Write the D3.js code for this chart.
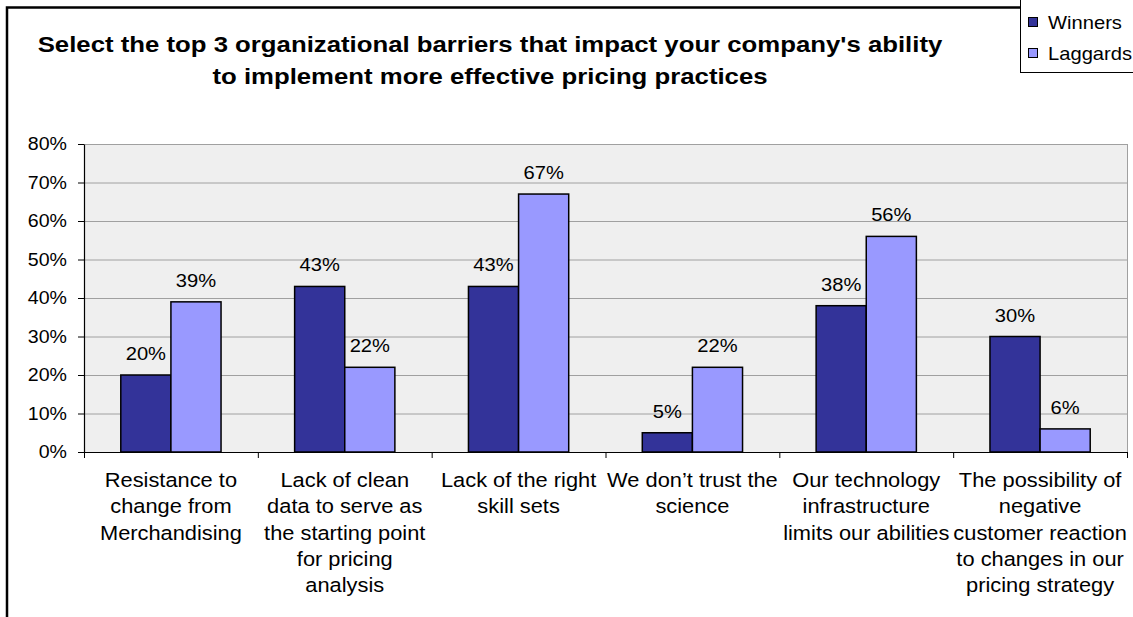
<!DOCTYPE html>
<html>
<head>
<meta charset="utf-8">
<script src="https://cdn.jsdelivr.net/npm/d3@7"></script>
<style>
  html, body { margin: 0; padding: 0; background: #fff; }
  svg { display: block; }
</style>
</head>
<body>
<svg id="chart" width="1133" height="617"></svg>
<script>
// ---- data ----
const categoryLabels = [
  ["Resistance to", "change from", "Merchandising"],
  ["Lack of clean", "data to serve as", "the starting point", "for pricing", "analysis"],
  ["Lack of the right", "skill sets"],
  ["We don\u2019t trust the", "science"],
  ["Our technology", "infrastructure", "limits our abilities"],
  ["The possibility of", "negative", "customer reaction", "to changes in our", "pricing strategy"]
];
const seriesNames = ["Winners", "Laggards"];
const winners = [20, 43, 43, 5, 38, 30];
const laggards = [39, 22, 67, 22, 56, 6];
const yTicks = [0, 10, 20, 30, 40, 50, 60, 70, 80];
const titleLines = [
  "Select the top 3 organizational barriers that impact your company's ability",
  "to implement more effective pricing practices"
];

// ---- layout & style ----
const FONT = "'Liberation Sans', Arial, Helvetica, sans-serif";
const SX = 1.12;                 // horizontal widening of the lettering
const colors = { Winners: "#333399", Laggards: "#9999FF" };
const plot = { left: 84, right: 1127, top: 144, bottom: 452 };

const svg = d3.select("#chart");

// chart frame
svg.append("rect")
  .attr("x", 7).attr("y", 7.5).attr("width", 1200).attr("height", 700)
  .attr("fill", "#fff").attr("stroke", "#000").attr("stroke-width", 2.5);

// text helper: draws a string widened by SX around its anchor point
function wideText(parent, x, y, str, size, anchor, weight) {
  return parent.append("text")
    .attr("transform", `translate(${x},${y}) scale(${SX},1)`)
    .attr("text-anchor", anchor || "middle")
    .attr("font-family", FONT)
    .attr("font-size", size)
    .attr("font-weight", weight || "normal")
    .attr("fill", "#000")
    .text(str);
}

// title
titleLines.forEach((t, i) => wideText(svg, 490, 52 + i * 32, t, 23, "middle", "bold"));

// scales
const idx = d3.range(categoryLabels.length);
const x0 = d3.scaleBand().domain(idx).range([plot.left, plot.right]).padding(0);
const x1 = d3.scaleBand().domain(seriesNames).range([0, x0.bandwidth()])
  .paddingInner(0).paddingOuter(0.734);
const y = d3.scaleLinear().domain([0, 80]).range([plot.bottom, plot.top]);
const xEdges = d3.scaleLinear().domain([0, categoryLabels.length]).range([plot.left, plot.right]);

// plot background
svg.append("rect")
  .attr("x", plot.left).attr("y", plot.top)
  .attr("width", plot.right - plot.left).attr("height", plot.bottom - plot.top)
  .attr("fill", "#efefef");

// gridlines
svg.append("g")
  .selectAll("line")
  .data(yTicks.filter(d => d > 0))
  .join("line")
  .attr("x1", plot.left).attr("x2", plot.right)
  .attr("y1", d => y(d) + 0.5).attr("y2", d => y(d) + 0.5)
  .attr("stroke", "#a0a0a0").attr("stroke-width", 1);

// right edge of plot area
svg.append("line")
  .attr("x1", plot.right + 0.5).attr("x2", plot.right + 0.5)
  .attr("y1", plot.top).attr("y2", plot.bottom)
  .attr("stroke", "#a0a0a0").attr("stroke-width", 1);

// bars
const rows = idx.map(i => ({ i, values: [
  { key: "Winners", v: winners[i] },
  { key: "Laggards", v: laggards[i] }
]}));

const groups = svg.append("g").selectAll("g")
  .data(rows)
  .join("g")
  .attr("transform", d => `translate(${x0(d.i)},0)`);

groups.selectAll("rect")
  .data(d => d.values)
  .join("rect")
  .attr("x", d => x1(d.key))
  .attr("y", d => y(d.v))
  .attr("width", x1.bandwidth())
  .attr("height", d => y(0) - y(d.v))
  .attr("fill", d => colors[d.key])
  .attr("stroke", "#000").attr("stroke-width", 1.5);

// value labels
groups.each(function(d) {
  const g = d3.select(this);
  d.values.forEach(s => {
    wideText(g, x1(s.key) + x1.bandwidth() / 2, y(s.v) - 15, s.v + "%", 18, "middle");
  });
});

// y axis
const yAxis = svg.append("g")
  .attr("transform", `translate(${plot.left},0)`)
  .call(d3.axisLeft(y).tickValues(yTicks).tickSize(6).tickSizeOuter(0).tickFormat(d => d + "%"));
yAxis.select(".domain").attr("stroke", "#000").attr("stroke-width", 1.2);
yAxis.selectAll(".tick line").attr("stroke", "#000");
yAxis.selectAll(".tick text")
  .attr("x", -17 / SX)
  .attr("transform", `scale(${SX},1)`)
  .attr("font-family", FONT).attr("font-size", 17.5).attr("fill", "#000");

// x axis with ticks at category boundaries
const xAxis = svg.append("g")
  .attr("transform", `translate(0,${plot.bottom})`)
  .call(d3.axisBottom(xEdges).tickValues(d3.range(categoryLabels.length + 1))
    .tickSize(6).tickSizeOuter(0).tickFormat(""));
xAxis.select(".domain").attr("stroke", "#000").attr("stroke-width", 1.2);
xAxis.selectAll(".tick line").attr("stroke", "#000");

// category labels
idx.forEach(i => {
  const cx = x0(i) + x0.bandwidth() / 2;
  categoryLabels[i].forEach((line, k) => {
    wideText(svg, cx, 487 + k * 26.3, line, 19.5, "middle");
  });
});

// legend
const legend = svg.append("g");
legend.append("rect")
  .attr("x", 1020.5).attr("y", -5).attr("width", 200).attr("height", 77.5)
  .attr("fill", "#fff").attr("stroke", "#000").attr("stroke-width", 1);
seriesNames.forEach((name, k) => {
  const cy = 22 + k * 31;
  legend.append("rect")
    .attr("x", 1028.5).attr("y", cy - 4.5).attr("width", 9).attr("height", 9)
    .attr("fill", colors[name]).attr("stroke", "#000").attr("stroke-width", 1);
  wideText(legend, 1048, cy + 6.5, name, 18, "start");
});
</script>
</body>
</html>
